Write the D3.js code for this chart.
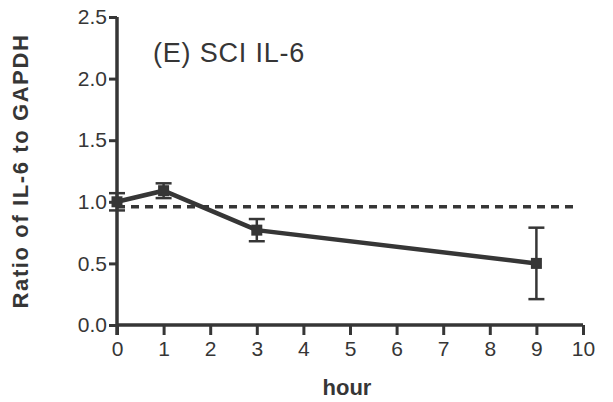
<!DOCTYPE html>
<html><head><meta charset="utf-8">
<script src="https://cdn.jsdelivr.net/npm/d3@7"></script>
<style>body{margin:0;background:#fff}svg{display:block}</style>
</head><body>
<svg id="c" width="613" height="402"></svg>
<script>
const hours = [0, 1, 3, 9];
const ratio = [1.0, 1.09, 0.77, 0.50];
const sem = [0.07, 0.06, 0.09, 0.29];
const baseline = 0.96;
const xTicks = [0,1,2,3,4,5,6,7,8,9,10];
const yTicks = [0.0,0.5,1.0,1.5,2.0,2.5];
const title = "(E) SCI IL-6";
const xLabel = "hour";
const yLabel = "Ratio of IL-6 to GAPDH";

const col = "#363636";
const svg = d3.select("#c");
const x = d3.scaleLinear().domain([0,10]).range([117,583]);
const y = d3.scaleLinear().domain([0,2.5]).range([325,17]);

// axes
const xa = svg.append("g").attr("transform","translate(0,325)")
  .call(d3.axisBottom(x).tickValues(xTicks).tickSize(10).tickPadding(6).tickFormat(d3.format("d")));
const ya = svg.append("g").attr("transform","translate(117,0)")
  .call(d3.axisLeft(y).tickValues(yTicks).tickSize(8).tickPadding(2).tickFormat(d3.format(".1f")));
[xa,ya].forEach(a=>{
  a.select(".domain").attr("stroke",col).attr("stroke-width",3.5);
  a.selectAll(".tick line").attr("stroke",col).attr("stroke-width",3);
  a.selectAll(".tick text").attr("fill",col).style("font-family","Liberation Sans, Arial, sans-serif").style("font-size","21px");
});
xa.select(".domain").attr("d", `M${x(0)},0H${x(10)}`);
ya.select(".domain").attr("d", `M0,${y(2.5)}V${y(0)+10}`);

// dashed baseline
svg.append("line").attr("x1",x(0)).attr("x2",x(9.85)).attr("y1",y(baseline)).attr("y2",y(baseline))
  .attr("stroke",col).attr("stroke-width",3.5).attr("stroke-dasharray","8,6");

const pts = hours.map((h,i)=>({h, v:ratio[i], e:sem[i]}));
// error bars
const eb = svg.append("g").attr("stroke",col).attr("stroke-width",2.5);
pts.forEach(p=>{
  eb.append("line").attr("x1",x(p.h)).attr("x2",x(p.h)).attr("y1",y(p.v+p.e)).attr("y2",y(p.v-p.e));
  [p.v+p.e,p.v-p.e].forEach(v=>eb.append("line").attr("x1",x(p.h)-8).attr("x2",x(p.h)+8).attr("y1",y(v)).attr("y2",y(v)));
});
// line
svg.append("path").datum(pts).attr("fill","none").attr("stroke",col).attr("stroke-width",4.5)
  .attr("d", d3.line().x(d=>x(d.h)).y(d=>y(d.v)));
// markers
svg.append("g").selectAll("rect").data(pts).join("rect")
  .attr("x",d=>x(d.h)-5.5).attr("y",d=>y(d.v)-5.5).attr("width",11).attr("height",11).attr("fill",col);

// texts
svg.append("text").attr("x",153).attr("y",62).attr("fill",col)
  .style("font-family","Liberation Sans, Arial, sans-serif").style("font-size","27px").style("letter-spacing","0.8px").text(title);
svg.append("text").attr("x",347).attr("y",395).attr("text-anchor","middle").attr("fill",col)
  .style("font-family","Liberation Sans, Arial, sans-serif").style("font-size","22px").style("font-weight","bold").text(xLabel);
svg.append("text").attr("transform","translate(28,171) rotate(-90)").attr("text-anchor","middle").attr("fill",col)
  .style("font-family","Liberation Sans, Arial, sans-serif").style("font-size","22px").style("font-weight","bold").style("letter-spacing","1.6px").text(yLabel);
</script>
</body></html>
